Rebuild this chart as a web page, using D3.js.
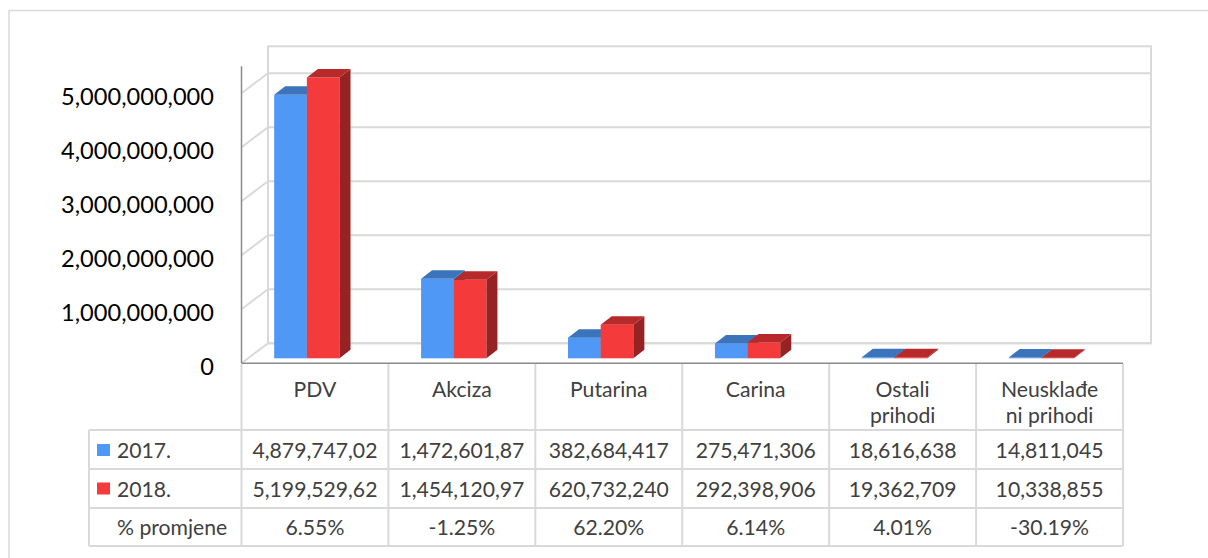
<!DOCTYPE html>
<html>
<head>
<meta charset="utf-8">
<script src="https://cdn.jsdelivr.net/npm/d3@7"></script>
<style>
  html, body { margin: 0; padding: 0; background: #fff; }
  svg { display: block; }
</style>
</head>
<body>
<svg id="chart" width="1208" height="558"></svg>
<script>
// ---- data ----
const categories = ["PDV", "Akciza", "Putarina", "Carina", "Ostali prihodi", "Neusklađeni prihodi"];
const categoryLines = [["PDV"], ["Akciza"], ["Putarina"], ["Carina"], ["Ostali", "prihodi"], ["Neuskla\u0111e", "ni prihodi"]];
const seriesNames = ["2017.", "2018."];
const values2017 = [4879747020, 1472601870, 382684417, 275471306, 18616638, 14811045];
const values2018 = [5199529620, 1454120970, 620732240, 292398906, 19362709, 10338855];
const table2017 = ["4,879,747,02", "1,472,601,87", "382,684,417", "275,471,306", "18,616,638", "14,811,045"];
const table2018 = ["5,199,529,62", "1,454,120,97", "620,732,240", "292,398,906", "19,362,709", "10,338,855"];
const changeLabel = "% promjene";
const changes = ["6.55%", "-1.25%", "62.20%", "6.14%", "4.01%", "-30.19%"];
const yTicks = [0, 1e9, 2e9, 3e9, 4e9, 5e9];
const yMax = 5.5e9;

// ---- styles ----
const FONT = "Lato, 'Open Sans', sans-serif";
const colors = {
  face: ["#4F98F6", "#F43A3B"],
  top: ["#3B74BA", "#B8292A"],
  side: ["#2F5F9A", "#962224"],
  grid: "#D9D9D9",
  axis: "#8A8A8A",
  text: "#404040"
};

const svg = d3.select("#chart");

// helper: fit font size to a target width for a sample string
function fitSize(sample, target) {
  const t = svg.append("text").attr("font-family", FONT).attr("font-size", 100).text(sample);
  const w = t.node().getComputedTextLength();
  t.remove();
  return 100 * target / w;
}
const axisFs = fitSize("5,000,000,000", 153);
const tableFs = fitSize("4,879,747,02", 125);

// outer border
svg.append("rect").attr("x", 9).attr("y", 10.5).attr("width", 1220).attr("height", 580)
  .attr("fill", "none").attr("stroke", "#D9D9D9").attr("stroke-width", 1.5);

// ---- scales ----
const plotLeft = 241.5, plotRight = 1123;
const depthX = 26.5, depthY = 20;
const x = d3.scaleBand().domain(categories).range([plotLeft, plotRight]).paddingInner(0).paddingOuter(0);
const yFront = d3.scaleLinear().domain([0, 5e9]).range([363.3, 93.3]);
const yBack = v => yFront(v) - depthY;
const barDX = 11, barDY = 8.5;           // bar depth
const yBar = v => yFront(v) - 5;         // bar front face sits slightly behind the front edge
const bw = x.bandwidth();
const barOffset = bw * 0.2224, barW = bw * 0.2224;

// back wall
const wallL = plotLeft + depthX, wallR = plotRight + 28;
svg.append("rect").attr("x", wallL).attr("y", yBack(yMax)).attr("width", wallR - wallL)
  .attr("height", yBack(0) - yBack(yMax)).attr("fill", "none").attr("stroke", colors.grid).attr("stroke-width", 2);
svg.append("g").selectAll("line").data(yTicks).join("line")
  .attr("x1", wallL).attr("x2", wallR).attr("y1", d => yBack(d)).attr("y2", d => yBack(d))
  .attr("stroke", colors.grid).attr("stroke-width", 2);
// side wall diagonals
svg.append("g").selectAll("line").data(yTicks).join("line")
  .attr("x1", plotLeft).attr("x2", wallL).attr("y1", d => yFront(d)).attr("y2", d => yBack(d))
  .attr("stroke", colors.grid).attr("stroke-width", 2);

// ---- bars ----
const series = [values2017, values2018];
const barsG = svg.append("g");
categories.forEach((c, i) => {
  series.forEach((vals, s) => {
    const v = vals[i];
    const x0 = x(c) + barOffset + s * barW, x1 = x0 + barW;
    const yt = yBar(v), yb = yBar(0);
    // front face
    barsG.append("rect").attr("x", x0).attr("y", yt).attr("width", barW).attr("height", Math.max(0, yb - yt))
      .attr("fill", colors.face[s]);
    // side face (only the right-most visible)
    barsG.append("path")
      .attr("d", `M${x1},${yt}L${x1 + barDX},${yt - barDY}L${x1 + barDX},${yb - barDY}L${x1},${yb}Z`)
      .attr("fill", colors.side[s]);
    // top face
    barsG.append("path")
      .attr("d", `M${x0},${yt}L${x1},${yt}L${x1 + barDX},${yt - barDY}L${x0 + barDX},${yt - barDY}Z`)
      .attr("fill", colors.top[s]);
  });
});

// ---- axes lines ----
svg.append("line").attr("x1", plotLeft).attr("x2", plotLeft).attr("y1", yFront(yMax)).attr("y2", yFront(0))
  .attr("stroke", colors.axis).attr("stroke-width", 1.5);

// y-axis labels via d3 axis
const yAxis = d3.axisLeft(yFront).tickValues(yTicks).tickFormat(d3.format(",")).tickSize(0).tickPadding(0);
const yAxisG = svg.append("g").attr("transform", "translate(214,4)").call(yAxis);
yAxisG.select(".domain").remove();
yAxisG.selectAll("text").attr("font-family", FONT).attr("font-size", axisFs).attr("fill", "#000");

// ---- data table ----
const rowLabelLeft = 89;
const rows = [{ y0: 364, y1: 430 }, { y0: 430, y1: 469 }, { y0: 469, y1: 508 }, { y0: 508, y1: 546 }];
const tbl = svg.append("g");
// horizontal lines
tbl.append("line").attr("x1", rowLabelLeft).attr("x2", plotRight).attr("y1", 430).attr("y2", 430).attr("stroke", colors.grid).attr("stroke-width", 2);
tbl.append("line").attr("x1", rowLabelLeft).attr("x2", plotRight).attr("y1", 469).attr("y2", 469).attr("stroke", colors.grid).attr("stroke-width", 2);
tbl.append("line").attr("x1", rowLabelLeft).attr("x2", plotRight).attr("y1", 508).attr("y2", 508).attr("stroke", colors.grid).attr("stroke-width", 2);
tbl.append("line").attr("x1", rowLabelLeft).attr("x2", plotRight).attr("y1", 546).attr("y2", 546).attr("stroke", colors.grid).attr("stroke-width", 2);
// vertical lines
tbl.append("line").attr("x1", rowLabelLeft).attr("x2", rowLabelLeft).attr("y1", 430).attr("y2", 546).attr("stroke", colors.grid).attr("stroke-width", 2);
const colEdges = categories.map(c => x(c)).concat([plotRight]);
tbl.selectAll("line.col").data(colEdges).join("line").attr("class", "col")
  .attr("x1", d => d).attr("x2", d => d).attr("y1", 364).attr("y2", 546)
  .attr("stroke", colors.grid).attr("stroke-width", 2);

// front floor (category axis) line on top of table
svg.append("line").attr("x1", plotLeft).attr("x2", plotRight).attr("y1", yFront(0)).attr("y2", yFront(0))
  .attr("stroke", colors.axis).attr("stroke-width", 1.5);

// category header labels
categories.forEach((c, i) => {
  const lines = categoryLines[i];
  lines.forEach((ln, k) => {
    tbl.append("text").attr("x", x(c) + bw / 2).attr("y", 389 + k * 26)
      .attr("text-anchor", "middle").attr("dominant-baseline", "central")
      .attr("font-family", FONT).attr("font-size", tableFs).attr("fill", colors.text).text(ln);
  });
});

// value rows
const tableRows = [table2017, table2018, changes];
const rowCenters = [450, 488.5, 527];
tableRows.forEach((r, ri) => {
  r.forEach((t, i) => {
    tbl.append("text").attr("x", x(categories[i]) + bw / 2).attr("y", rowCenters[ri])
      .attr("text-anchor", "middle").attr("dominant-baseline", "central")
      .attr("font-family", FONT).attr("font-size", tableFs).attr("fill", colors.text).text(t);
  });
});
// row labels with legend keys
seriesNames.forEach((n, s) => {
  tbl.append("rect").attr("x", 97).attr("y", rowCenters[s] - 6).attr("width", 13).attr("height", 12).attr("fill", colors.face[s]);
  tbl.append("text").attr("x", 117).attr("y", rowCenters[s]).attr("dominant-baseline", "central")
    .attr("font-family", FONT).attr("font-size", tableFs).attr("fill", colors.text).text(n);
});
tbl.append("text").attr("x", 117).attr("y", rowCenters[2]).attr("dominant-baseline", "central")
  .attr("font-family", FONT).attr("font-size", tableFs).attr("fill", colors.text).text(changeLabel);
</script>
</body>
</html>
